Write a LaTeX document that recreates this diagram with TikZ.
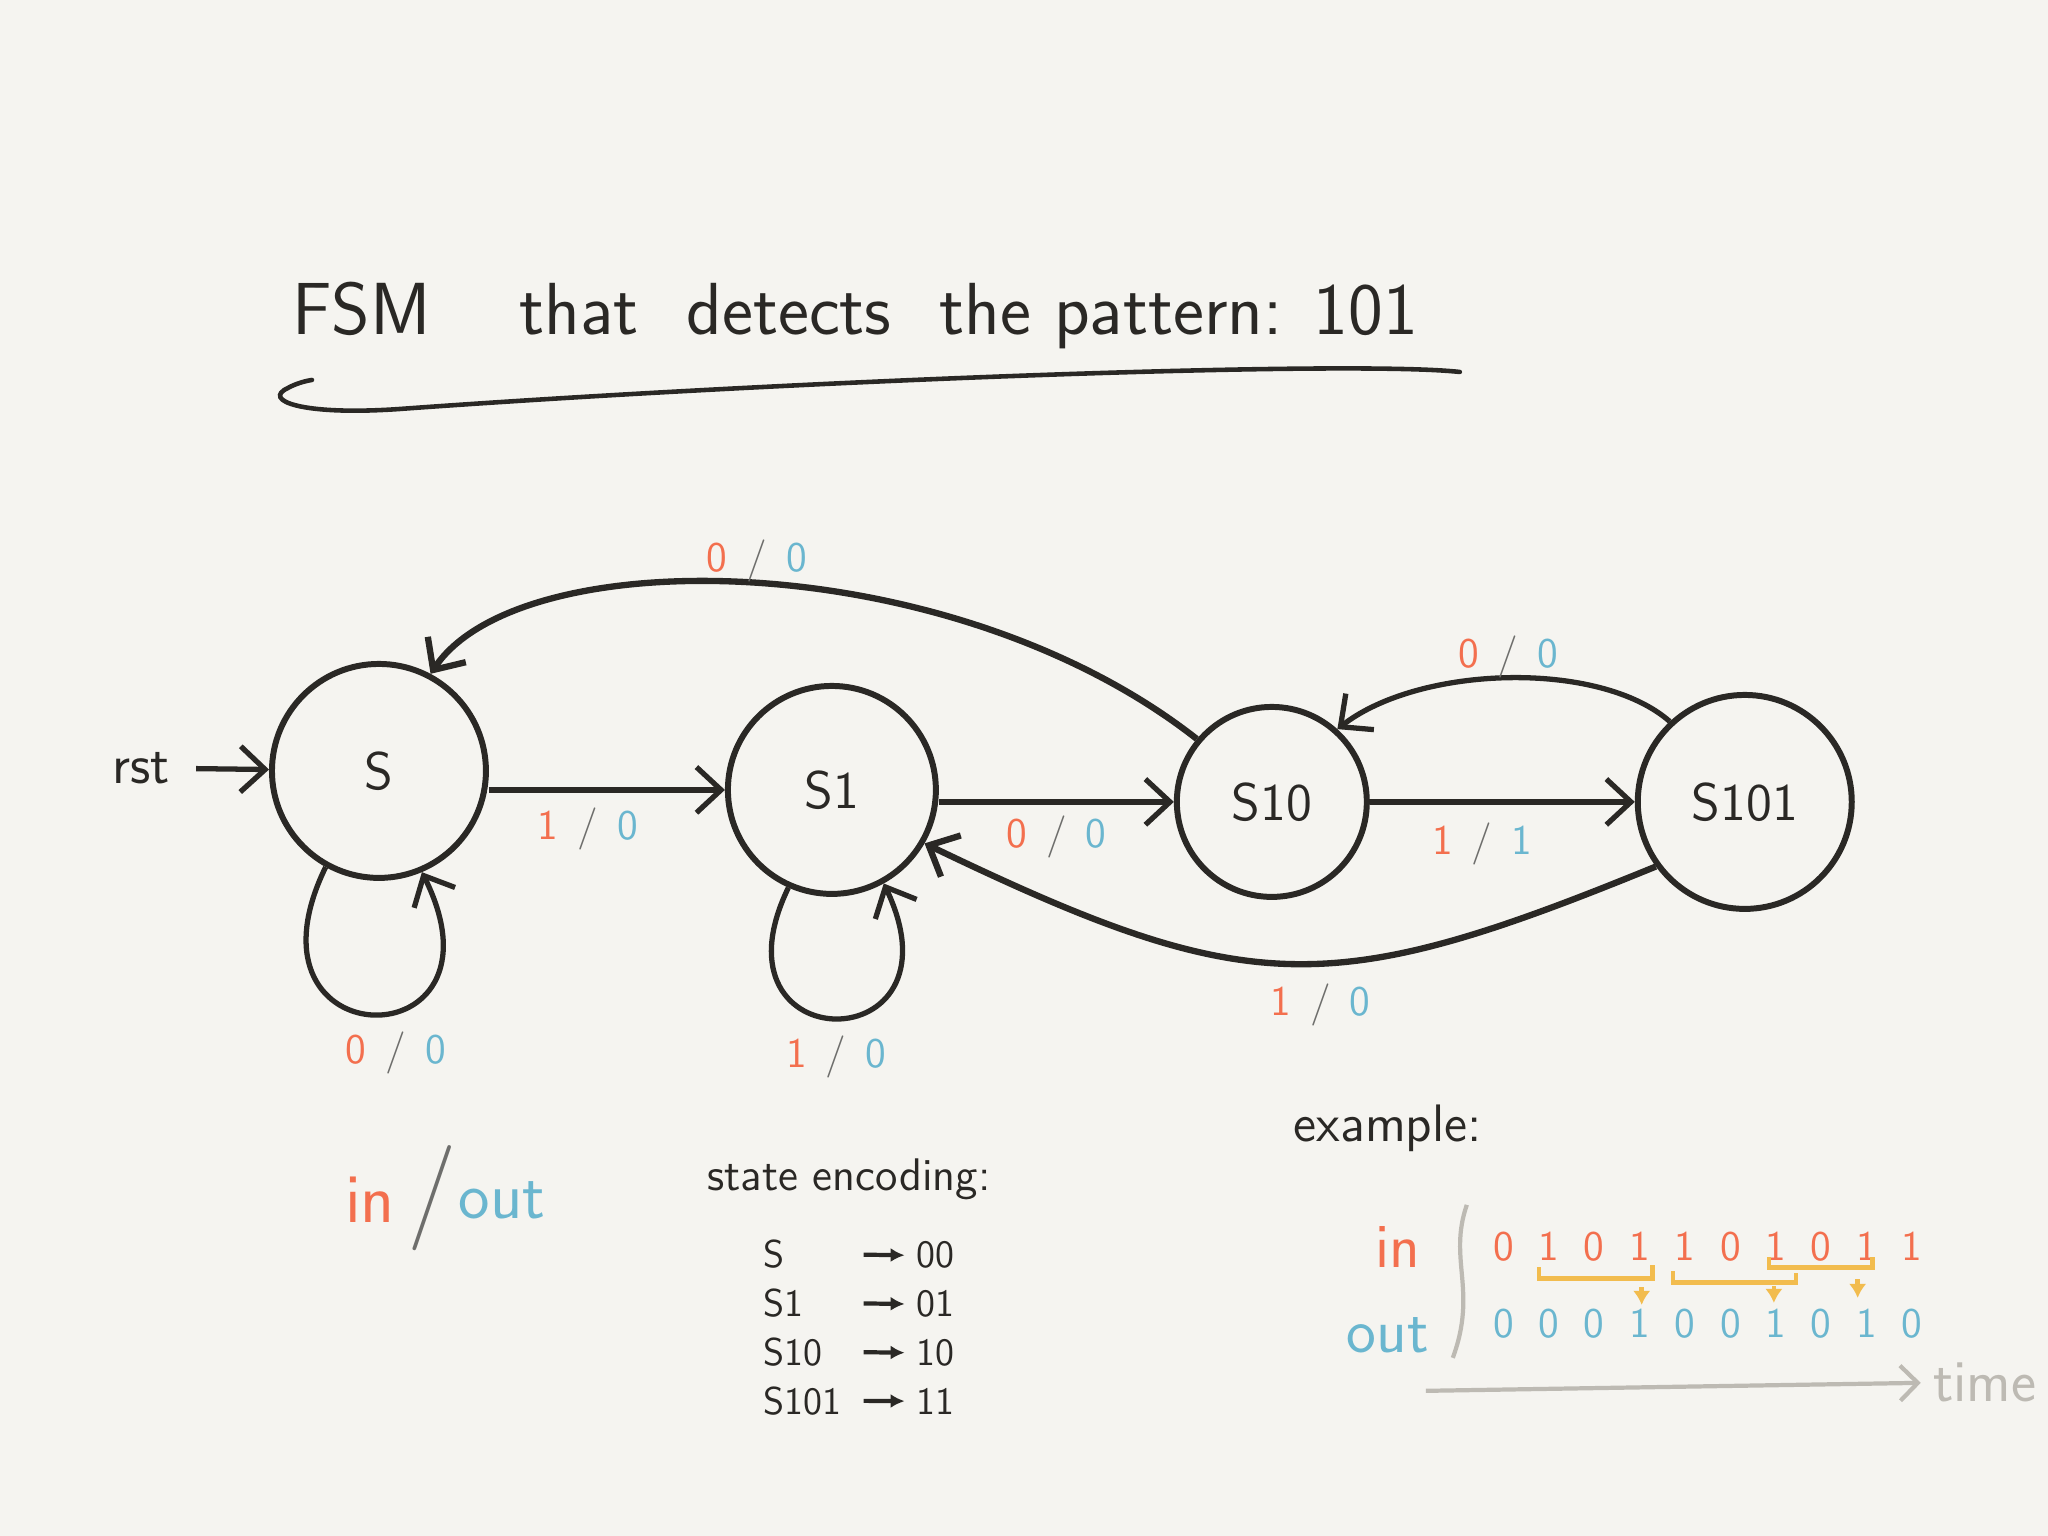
\documentclass[tikz,border=0pt]{standalone}
\usepackage{xcolor}
\usetikzlibrary{arrows.meta,calc,matrix}
\definecolor{papier}{HTML}{F5F4F0}
\definecolor{encre}{HTML}{2A2825}
\definecolor{entree}{HTML}{F36F4E}
\definecolor{sortie}{HTML}{6AB6CF}
\definecolor{barre}{HTML}{6E6E6C}
\definecolor{jaune}{HTML}{F2BC4E}
\definecolor{grisclair}{HTML}{BDBAB3}
\newcommand{\etiq}[2]{\textcolor{entree}{#1}\hspace{0.45em}\textcolor{barre}{/}\hspace{0.45em}\textcolor{sortie}{#2}}

\tikzset{
  taille/.style={font=\sffamily\fontsize{#1}{#1}\selectfont},
  etat/.style={circle,draw=encre,line width=1.7pt,inner sep=0pt,text=encre,taille=15},
  fleche/.style={draw=encre,line width=1.5pt,-{Straight Barb[length=7pt,width=13pt]}},
  lbl/.style={taille=12},
}

\begin{document}
\begin{tikzpicture}[x=0.1mm,y=-0.1mm]
\fill[papier] (0,0) rectangle (2048,1536);

% titre
\node[anchor=west,taille=21,text=encre] (titre) at (280,316)
  {FSM\hspace{1.2em}that\hspace{0.65em}detects\hspace{0.65em}the pattern: 101};
\draw[encre,line width=1.3pt,line cap=round] (1460,372) .. controls (1350,360) and (800,380) .. (400,409)
  .. controls (300,416) and (262,400) .. (288,388) .. controls (295,384) and (305,381) .. (312,380);

% les etats
\node[etat,minimum size=21.4mm] (S) at (379,771) {S};
\node[etat,minimum size=20.8mm] (S1) at (832,790) {S1};
\node[etat,minimum size=19mm] (S10) at (1272,802) {S10};
\node[etat,minimum size=21.4mm] (S101) at (1745,802) {S101};

\node[taille=16,text=encre] (rst) at (141,768) {rst};
\draw[fleche,shorten <=4pt] (rst) -- (S);

% transitions
\draw[fleche] (S.east |- S1.west) -- (S1.west) node[midway,below=1pt,lbl,xshift=-1.9mm] {\etiq{1}{0}};
\draw[fleche] (S1.east |- S10.west) -- (S10.west) node[midway,below=0pt,lbl] {\etiq{0}{0}};
\draw[fleche] (S10.east) -- (S101.west) node[midway,below=2pt,lbl,xshift=-2mm] {\etiq{1}{1}};
\draw[fleche,line width=1.8pt] (S10.140) .. controls (950,545) and (520,540) .. (S.62)
  node[pos=0.52,above=-4pt,lbl,xshift=2mm] {\etiq{0}{0}};
\draw[fleche] (S101.133) .. controls (1600,660) and (1420,665) .. (S10.48)
  node[midway,above=-4pt,lbl] {\etiq{0}{0}};
\draw[fleche,line width=1.8pt] (S101.216) .. controls (1330,1000) and (1250,1000) .. (S1.330)
  node[pos=0.45,below=1.5pt,lbl] {\etiq{1}{0}};
\draw[fleche] (S.241) .. controls +(-95,195) and +(95,191) .. (S.293)
  node[pos=0.5,below=1pt,lbl,xshift=2.2mm] {\etiq{0}{0}};
\draw[fleche] (S1.246) .. controls +(-85,175) and +(85,179) .. (S1.299)
  node[pos=0.5,below=1pt,lbl] {\etiq{1}{0}};

% legende
\node[taille=20,text=entree] (in) at (370,1200) {in};
\node[taille=30,text=barre] (sl) at (432,1198) {/};
\node[taille=19,text=sortie] (out) at (502,1200) {out};

% codage des etats
\node[taille=13,text=encre] (enc) at (849,1179) {state encoding:};
\matrix (code) [matrix of nodes,nodes={taille=11,text=encre,inner sep=1pt,minimum height=4.8mm},
  column 1/.style={nodes={text width=8.5mm,align=left}},
  column 2/.style={nodes={text width=4mm,align=center}},
  column sep=6mm,row sep=0pt] at (860,1328) {
S & 00 \\
S1 & 01 \\
S10 & 10 \\
S101 & 11 \\
};
\draw[encre,line width=1.2pt,-{Latex[length=4pt,width=4pt]},shorten <=3pt,shorten >=2pt] (code-1-1.east) -- (code-1-2.west);
\draw[encre,line width=1.2pt,-{Latex[length=4pt,width=4pt]},shorten <=3pt,shorten >=2pt] (code-2-1.east) -- (code-2-2.west);
\draw[encre,line width=1.2pt,-{Latex[length=4pt,width=4pt]},shorten <=3pt,shorten >=2pt] (code-3-1.east) -- (code-3-2.west);
\draw[encre,line width=1.2pt,-{Latex[length=4pt,width=4pt]},shorten <=3pt,shorten >=2pt] (code-4-1.east) -- (code-4-2.west);

% exemple
\node[taille=15,text=encre] (exemple) at (1388,1128) {example:};
\node[taille=18,text=entree] (exin) at (1398,1247) {in};
\node[taille=18,text=sortie] (exout) at (1388,1335) {out};
\draw[grisclair,line width=1.2pt] (1467,1205) .. controls (1448,1260) and (1478,1290) .. (1453,1358);
\matrix (ex) [matrix of nodes,nodes={taille=12,minimum width=4.54mm,minimum height=7.6mm,inner sep=0pt},
  column sep=0pt,row sep=0pt,row 1/.style={text=entree},row 2/.style={text=sortie}] at (1708,1285) {
0 & 1 & 0 & 1 & 1 & 0 & 1 & 0 & 1 & 1 \\
0 & 0 & 0 & 1 & 0 & 0 & 1 & 0 & 1 & 0 \\
};
\draw[jaune,line width=1.3pt] (ex-1-2.center) ++(-10,21) -- ++(0,11) -| ($(ex-1-4.center)+(13,19)$);
\draw[jaune,line width=1.3pt] (ex-1-5.center) ++(-12,25) -- ++(0,11) -| ($(ex-1-7.center)+(20,27)$);
\draw[jaune,line width=1.3pt] (ex-1-7.center) ++(-7,11) -- ++(0,10) -| ($(ex-1-9.center)+(6,11)$);
\draw[jaune,line width=1.3pt,-{Latex[length=4pt,width=5pt]}] ($(ex-1-4.center)+(2,41)$) -- ($(ex-2-4.center)+(2,-18)$);
\draw[jaune,line width=1.3pt,-{Latex[length=4pt,width=5pt]}] ($(ex-1-7.center)+(-2,40)$) -- ($(ex-2-7.center)+(-2,-20)$);
\draw[jaune,line width=1.3pt,-{Latex[length=4pt,width=5pt]}] ($(ex-1-9.center)+(-9,33)$) -- ($(ex-2-9.center)+(-9,-25)$);

\node[taille=17,text=grisclair] (temps) at (1985,1383) {time};
\coordinate (t0) at (1426,1391);
\draw[grisclair,line width=1.2pt,-{Straight Barb[length=5pt,width=10pt]}] (t0) -- (temps.west);
\end{tikzpicture}
\end{document}
